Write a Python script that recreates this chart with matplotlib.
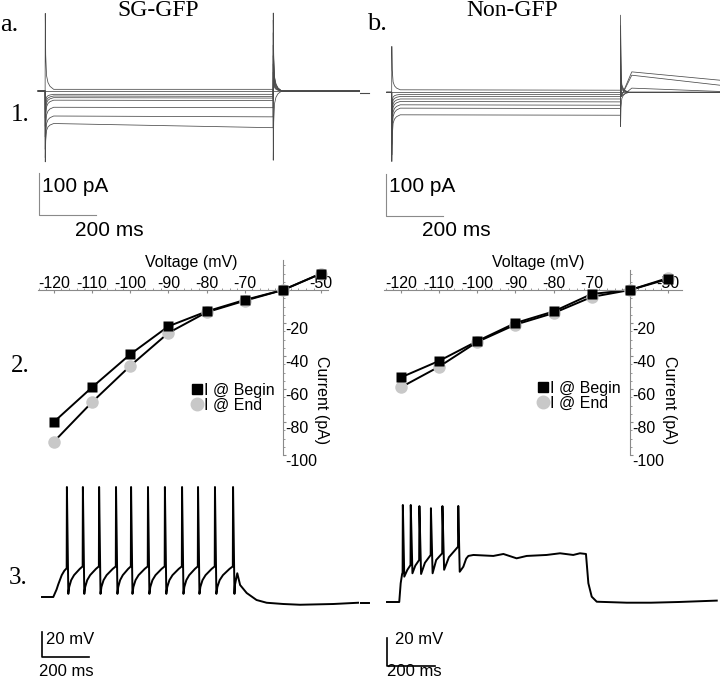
import matplotlib
matplotlib.use('Agg')
import matplotlib.pyplot as plt
import matplotlib.transforms as mtransforms
from matplotlib.lines import Line2D
from matplotlib.ticker import FixedLocator

plt.rcParams['font.family'] = 'Liberation Sans'

# ---------------- data ----------------
# row 1: voltage-clamp current traces (pA), times in ms
t_on_L, t_off_L, t_end_L = 25, 825, 1130
lvl_begin_L = [4, 0, -8, -12, -16, -22, -39, -60, -78]
lvl_end_L = [4, 0, -8, -13, -17, -23, -40, -62, -88]
peak_on_L = [186, 0, -45, -65, -85, -110, -140, -160, -170]
peak_off_L = [-166, 0, 45, 65, 85, 110, 140, 170, 187]

t_on_R, t_off_R, t_end_R = 17.5, 820, 1169
lvl_begin_R = [6, 0, -5, -10, -16, -22, -30, -38, -54]
lvl_end_R = [5, 0, -5, -10, -16, -23, -31, -39, -55]
peak_on_R = [110, 0, -40, -60, -80, -100, -125, -150, -166]
peak_off_R = [-82, 0, 40, 60, 80, 100, 130, 160, 185]
tail_start_R = [0, 0, 0, 0, 0, 0, 10, 41, 49]
tail_end_R = [0, 0, 0, 0, 0, 0, 2, 17, 29]

# capacitive transient shape (ms after edge, fraction of peak left)
decay_dt = [0.5, 2, 5, 10, 17, 30]
decay_frac = [1.0, 0.45, 0.18, 0.09, 0.04, 0.0]

# row 2: I-V curves
volt = [-120, -110, -100, -90, -80, -70, -60, -50]
sg_begin = [-80, -59, -39, -22, -13, -6, 0, 10]
sg_end = [-92, -68, -46, -26, -13.5, -6.5, 0, 10]
non_begin = [-53, -43, -31, -20, -13, -2.4, 0, 6.7]
non_end = [-59, -46.5, -31.5, -21, -14, -4.2, 0, 7.3]
v_ticks = [-120, -110, -100, -90, -80, -70, -50]
v_labels = ['-120', '-110', '-100', '-90', '-80', '-70', '-50']
i_ticks = [-100, -80, -60, -40, -20]

# row 3: current-clamp voltage traces (mV), times in ms
v_rest = -70
spike_t_L = [106, 174, 243, 315, 379, 451, 523, 596, 664, 736, 813]
spike_peak_L = 18
spike_trough_L = -67.5
isi_frac_L = [0.06, 0.2, 0.4, 0.6, 0.8, 1.0]
isi_v_L = [-62, -56.5, -52.5, -50, -47.5, -45.5]
pre_t_L = [0, 48, 55, 62, 69, 77, 84, 95, 105]
pre_v_L = [-70, -70, -67, -64, -60, -56, -52.5, -49, -47]
post_t_L = [821, 831, 843, 871, 913, 956, 1027, 1098, 1240, 1345]
post_v_L = [-60.4, -51, -60.4, -66.8, -72.4, -74.6, -75.6, -76.2, -75.6, -74.6]

t_R3 = [0, 51, 57, 63, 65, 66, 72, 85, 98, 99, 106, 118, 134, 135, 142, 158, 182, 183,
        190, 205, 230, 231, 238, 258, 296, 297, 303, 318, 330, 339, 360, 443, 485, 540,
        582, 665, 721, 776, 804, 829, 839, 853, 874, 999, 1100, 1215, 1374]
v_R3 = [-70, -70, -56.6, -50, -49, -0.7, -51.9, -47, -43.6, -0.7, -49.5, -44, -40, -1.5,
        -50, -42, -36.4, -3, -49.5, -40, -35.2, -1.5, -47, -38, -30.5, -1.4, -48.4, -44.8,
        -39, -37.1, -36.4, -37.1, -35.7, -38.8, -37.1, -36.4, -35.2, -36.4, -35.2, -35.7,
        -56.6, -66.2, -69.8, -70.5, -70.5, -70, -69]

scale_pa, scale_ms, scale_mv = 100, 200, 20

# ---------------- layout helpers ----------------
W, H = 720, 684
fig = plt.figure(figsize=(7.2, 6.84), dpi=100)


def fx(x):
    return x / W


def fy(y):
    return 1 - y / H


def panel(x0, y0, x1, y1, ox, oy, sx, sy, dx=0.0, dy=0.0):
    # axes whose data units map linearly onto figure pixels
    ax = fig.add_axes([x0 / W, 1 - y1 / H, (x1 - x0) / W, (y1 - y0) / H])
    ax.set_xlim(dx + (x0 - ox) / sx, dx + (x1 - ox) / sx)
    ax.set_ylim(dy + (oy - y1) / sy, dy + (oy - y0) / sy)
    return ax


def step_trace(t_on, t_off, t_end, l0, l1, p_on, p_off, tail0=0, tail1=0):
    t = [0, t_on]
    y = [0, 0]
    for dt, f in zip(decay_dt, decay_frac):
        t.append(t_on + dt)
        y.append(l0 + (p_on - l0) * f)
    t += [t_off, t_off + 0.5]
    y += [l1, p_off]
    if tail0:
        t += [t_off + 3, t_off + 40, t_end]
        y += [-10, tail0, tail1]
    else:
        for dt, f in zip(decay_dt[1:], decay_frac[1:]):
            t.append(t_off + dt)
            y.append(p_off * f)
        t.append(t_end)
        y.append(0)
    return t, y


def serif(x, y, s, size):
    fig.text(fx(x), fy(y), s, family='Liberation Serif', fontsize=size,
             ha='center', va='center')


# ---------------- row 1 ----------------
trace_col = '#4a4a4a'
bar_col = '#8a8a8a'

ax1 = panel(28, 0, 360, 245, 38, 91, 0.285, 0.417)
for k in range(len(lvl_begin_L)):
    t, y = step_trace(t_on_L, t_off_L, t_end_L, lvl_begin_L[k], lvl_end_L[k],
                      peak_on_L[k], peak_off_L[k])
    ax1.plot(t, y, color=trace_col, lw=0.55)
ax1.plot([3.5, 3.5, 3.5 + scale_ms], [-197, -197 - scale_pa, -197 - scale_pa],
         color=bar_col, lw=0.8)
ax1.axis('off')

ax2 = panel(360, 0, 720, 245, 386.7, 92.3, 0.285, 0.417)
for k in range(len(lvl_begin_R)):
    t, y = step_trace(t_on_R, t_off_R, t_end_R, lvl_begin_R[k], lvl_end_R[k],
                      peak_on_R[k], peak_off_R[k], tail_start_R[k], tail_end_R[k])
    ax2.plot(t, y, color=trace_col, lw=0.55)
ax2.plot([-93, -62], [-2, -2], color=trace_col, lw=0.8)
ax2.plot([-2.5, -2.5, -2.5 + scale_ms], [-196, -196 - scale_pa, -196 - scale_pa],
         color=bar_col, lw=0.8)
ax2.axis('off')

for x, lab in [(42, '100 pA'), (389, '100 pA')]:
    fig.text(fx(x), fy(187), lab, fontsize=15, ha='left', va='center')
for x, lab in [(75, '200 ms'), (422, '200 ms')]:
    fig.text(fx(x), fy(230), lab, fontsize=15, ha='left', va='center')

# ---------------- row 2 ----------------
ylab_shift = mtransforms.ScaledTranslation(0, -5 / 100, fig.dpi_scale_trans)


def iv_panel(x0, x1, ox, xb, ytop, begin, end, leg_x, leg_y):
    ax = panel(x0, 250, x1, 470, ox, 290, 3.82, 1.65, dx=-60)
    ax.spines['left'].set_visible(False)
    ax.spines['bottom'].set_visible(False)
    ax.spines['top'].set_position(('data', 0))
    ax.spines['right'].set_position(('data', -60))
    ax.spines['top'].set_bounds(*xb)
    ax.spines['right'].set_bounds(-100, ytop)
    for s in ['top', 'right']:
        ax.spines[s].set_color('#8a8a8a')
        ax.spines[s].set_linewidth(0.8)
    ax.xaxis.tick_top()
    ax.yaxis.tick_right()
    ax.set_xticks(v_ticks)
    ax.set_xticklabels(v_labels)
    ax.set_yticks(i_ticks)
    ax.set_yticklabels([str(v) for v in i_ticks])
    ax.xaxis.set_minor_locator(FixedLocator(list(range(-124, -48, 2))))
    ax.yaxis.set_minor_locator(FixedLocator(list(range(-100, int(ytop), 5))))
    ax.tick_params(axis='x', which='major', direction='in', length=2.5, pad=-1,
                   labelsize=11.5, color='#8a8a8a')
    ax.tick_params(axis='y', which='major', direction='out', length=2, pad=-0.5,
                   labelsize=11.5, color='#8a8a8a')
    ax.tick_params(which='minor', length=1.5, color='#8a8a8a')
    for lab in ax.get_yticklabels():
        lab.set_transform(lab.get_transform() + ylab_shift)
    ax.plot(volt, end, color='black', lw=1.4, zorder=2, clip_on=False)
    ax.plot(volt, begin, color='black', lw=1.4, zorder=2, clip_on=False)
    ax.plot(volt, end, 'o', color='#c8c8c8', ms=9, mec='none', zorder=3, clip_on=False)
    ax.plot(volt, begin, 's', color='black', ms=7.5, mec='none', zorder=4, clip_on=False)
    handles = [Line2D([], [], marker='s', color='black', ls='none', ms=7.5),
               Line2D([], [], marker='o', color='#c8c8c8', ls='none', ms=9)]
    ax.legend(handles, ['I @ Begin', 'I @ End'], loc='upper left',
              bbox_to_anchor=(fx(leg_x), fy(leg_y)), bbox_transform=fig.transFigure,
              frameon=False, fontsize=11.5, handlelength=0.6, handletextpad=0.15,
              labelspacing=0.0, borderpad=0, borderaxespad=0)
    return ax


iv_panel(30, 355, 283, (-124.2, -48.3), 18, sg_begin, sg_end, 192, 383)
iv_panel(375, 715, 630, (-124.3, -46.4), 12, non_begin, non_end, 538, 381)

for x in [191, 538]:
    fig.text(fx(x), fy(262), 'Voltage (mV)', fontsize=11.5, ha='center', va='center')
for x in [322, 670]:
    fig.text(fx(x), fy(400), 'Current (pA)', fontsize=11.5, rotation=270,
             ha='center', va='center')

# ---------------- row 3 ----------------
t_L3 = list(pre_t_L)
v_L3 = list(pre_v_L)
for k, ts in enumerate(spike_t_L):
    t_L3 += [ts, ts + 6]
    v_L3 += [spike_peak_L, spike_trough_L]
    if k + 1 < len(spike_t_L):
        nxt = spike_t_L[k + 1] - 1
        for f, v in zip(isi_frac_L, isi_v_L):
            t_L3.append(ts + 6 + f * (nxt - ts - 6))
            v_L3.append(v)
t_L3 += post_t_L
v_L3 += post_v_L

ax5 = panel(30, 470, 360, 684, 42, 597, 0.235, 1.25, dy=v_rest)
ax5.plot(t_L3, v_L3, color='black', lw=1.4)
ax5.plot([0, 0, scale_ms], [-98, -98 - scale_mv, -98 - scale_mv], color='black', lw=1.2)
ax5.axis('off')

ax6 = panel(360, 470, 720, 684, 387, 602, 0.24, 1.4, dy=v_rest)
ax6.plot(t_R3, v_R3, color='black', lw=1.4)
ax6.plot([-112, -75], [-70.7, -70.7], color='black', lw=1.4)
ax6.plot([0, 0, scale_ms], [-95.7, -95.7 - scale_mv, -95.7 - scale_mv],
         color='black', lw=1.2)
ax6.axis('off')

for x in [46, 395]:
    fig.text(fx(x), fy(639), '20 mV', fontsize=12, ha='left', va='center')
for x, y in [(39, 671), (387, 672)]:
    fig.text(fx(x), fy(y), '200 ms', fontsize=12, ha='left', va='center')

# ---------------- panel letters / titles ----------------
serif(158, 11, 'SG-GFP', 17)
serif(512, 11, 'Non-GFP', 17)
serif(9, 25, 'a.', 19)
serif(377, 24, 'b.', 19)
serif(20, 115, '1.', 18)
serif(20, 366, '2.', 18)
serif(18, 578, '3.', 18)

fig.savefig('out.png', dpi=100)
